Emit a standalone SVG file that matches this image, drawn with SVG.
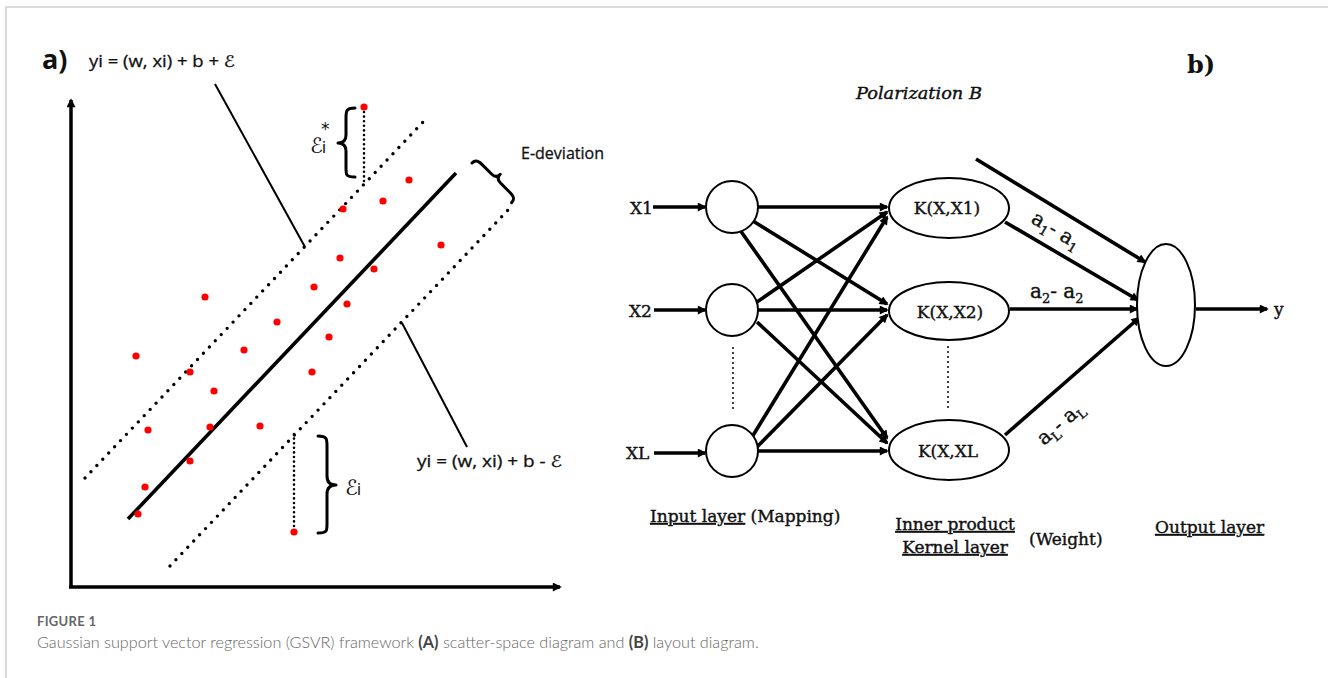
<svg xmlns="http://www.w3.org/2000/svg" width="1328" height="678" viewBox="0 0 1328 678">
<style>
.frame{stroke:#d0d0d0;stroke-width:1.5;fill:none}
.axis{stroke:#000;stroke-width:3.5;fill:none}
.solid{stroke:#000;stroke-width:3.6;fill:none;stroke-linecap:butt}
.dots{stroke:#000;stroke-width:3.4;fill:none;stroke-linecap:round;stroke-dasharray:0 8.6}
.vdots{stroke:#000;stroke-width:2.6;fill:none;stroke-linecap:round;stroke-dasharray:0 4.6}
.vdots2{stroke:#000;stroke-width:2;fill:none;stroke-linecap:round;stroke-dasharray:0 5}
.leader{stroke:#000;stroke-width:2;fill:none}
.brace{stroke:#000;stroke-width:3;fill:none;stroke-linecap:round;stroke-linejoin:round}
.pt{fill:#ff0000}
.ta{font-family:"Open Sans","DejaVu Sans",sans-serif;font-size:16px;fill:#111;stroke:#111;stroke-width:0.3}
.tb{font-family:"DejaVu Serif","Liberation Serif",serif;font-size:17px;fill:#111;stroke:#111;stroke-width:0.4}
.w{font-family:"DejaVu Serif","Liberation Serif",serif;font-size:20px;fill:#111;stroke:#111;stroke-width:0.4}
.node{fill:#fff;stroke:#000;stroke-width:2}
.edge{stroke:#000;stroke-width:3.6;fill:none;marker-end:url(#ah)}
.ul{text-decoration:underline}
.cap{font-family:Lato,"Open Sans",sans-serif;fill:#666}
</style>
<defs>
<marker id="ah" viewBox="0 0 10 10" refX="8" refY="5" markerWidth="12" markerHeight="9" markerUnits="userSpaceOnUse" orient="auto"><path d="M0,0 L10,5 L0,10 z" fill="#000"/></marker>
<marker id="axh" viewBox="0 0 10 10" refX="8" refY="5" markerWidth="10" markerHeight="9" markerUnits="userSpaceOnUse" orient="auto"><path d="M0,0 L10,5 L0,10 z" fill="#000"/></marker>
</defs>
<rect width="1328" height="678" fill="#fff"/>
<path class="frame" d="M6,678 L6,7 L1328,7"/>

<!-- Panel a -->
<g id="panel-a">
<text x="42" y="69" font-family="'Open Sans','DejaVu Sans',sans-serif" font-size="27" font-weight="bold" fill="#111">a)</text>
<text class="ta" x="89" y="67" textLength="146" lengthAdjust="spacingAndGlyphs">yi = (w, xi) + b + ℰ</text>
<path class="axis" d="M71,587 L71,100" marker-end="url(#axh)"/>
<path class="axis" d="M69,587 L560,587" marker-end="url(#axh)"/>
<path class="solid" d="M128,519 L456,173"/>
<path class="dots" d="M85,478 L425,120"/>
<path class="dots" d="M170,566 L510,208"/>
<path class="leader" d="M215,84 L305,247"/>
<path class="leader" d="M402,323 L467,447"/>
<text class="ta" x="417" y="467" textLength="145" lengthAdjust="spacingAndGlyphs">yi = (w, xi) + b - ℰ</text>
<path class="vdots" d="M364,112 L364,182"/>
<path class="vdots" d="M294,434 L294,528"/>
<path class="brace" d="M355,108 C346,108 346,111 346,118 L346,135 C346,141 343,143 338,143 C343,143 346,145 346,151 L346,168 C346,175 346,177 355,177"/>
<text x="310" y="153" font-family="'DejaVu Sans','Open Sans',sans-serif" font-size="21" fill="#111">ℰ<tspan font-size="16" dx="-1">i</tspan></text>
<text x="321" y="135" font-family="'DejaVu Sans',sans-serif" font-size="17" fill="#111">*</text>
<path class="brace" d="M318,436 C327,436 327,439 327,446 L327,476 C327,482 330,485 336,485 C330,485 327,488 327,494 L327,524 C327,531 327,533 318,533"/>
<text x="345" y="495" font-family="'DejaVu Sans','Open Sans',sans-serif" font-size="21" fill="#111">ℰ<tspan font-size="16" dx="-1">i</tspan></text>
<path class="brace" transform="translate(472,163) rotate(45)" d="M0,0 C0,-5 3,-6 8,-6 L22,-6 C26,-6 28,-8 28,-12 C28,-8 30,-6 34,-6 L48,-6 C53,-6 56,-5 56,0"/>
<text class="ta" x="604" y="159" text-anchor="end" font-size="17" textLength="83" lengthAdjust="spacingAndGlyphs">E-deviation</text>
<g class="pts">
<circle class="pt" cx="364" cy="107" r="3.6"/>
<circle class="pt" cx="409" cy="180" r="3.6"/>
<circle class="pt" cx="383" cy="201" r="3.6"/>
<circle class="pt" cx="343" cy="209" r="3.6"/>
<circle class="pt" cx="441" cy="245" r="3.6"/>
<circle class="pt" cx="340" cy="258" r="3.6"/>
<circle class="pt" cx="374" cy="269" r="3.6"/>
<circle class="pt" cx="314" cy="287" r="3.6"/>
<circle class="pt" cx="205" cy="297" r="3.6"/>
<circle class="pt" cx="347" cy="304" r="3.6"/>
<circle class="pt" cx="277" cy="322" r="3.6"/>
<circle class="pt" cx="329" cy="337" r="3.6"/>
<circle class="pt" cx="136" cy="356" r="3.6"/>
<circle class="pt" cx="244" cy="350" r="3.6"/>
<circle class="pt" cx="190" cy="372" r="3.6"/>
<circle class="pt" cx="312" cy="372" r="3.6"/>
<circle class="pt" cx="214" cy="391" r="3.6"/>
<circle class="pt" cx="148" cy="430" r="3.6"/>
<circle class="pt" cx="210" cy="427" r="3.6"/>
<circle class="pt" cx="260" cy="426" r="3.6"/>
<circle class="pt" cx="190" cy="461" r="3.6"/>
<circle class="pt" cx="145" cy="487" r="3.6"/>
<circle class="pt" cx="138" cy="514" r="3.6"/>
<circle class="pt" cx="294" cy="532" r="3.6"/>
</g>
</g>

<!-- Panel b -->
<text x="1187" y="73" font-family="'DejaVu Serif',serif" font-size="24" font-weight="bold" fill="#111">b)</text>
<text x="856" y="99" font-family="'DejaVu Serif',serif" font-size="17" font-style="italic" fill="#111" stroke="#111" stroke-width="0.4" textLength="126" lengthAdjust="spacingAndGlyphs">Polarization B</text>

<g id="connectors">
<path class="edge" d="M653,207 L705,207"/>
<path class="edge" d="M654,310 L705,310"/>
<path class="edge" d="M654,453 L705,453"/>
<path class="edge" d="M758,207 L887,207"/>
<path class="edge" d="M753,221 L887,304"/>
<path class="edge" d="M740,230 L887,438"/>
<path class="edge" d="M757,302 L887,212"/>
<path class="edge" d="M758,310 L887,310"/>
<path class="edge" d="M757,322 L887,443"/>
<path class="edge" d="M752,437 L887,217"/>
<path class="edge" d="M757,447 L887,315"/>
<path class="edge" d="M758,451 L887,451"/>
<path class="edge" d="M976,159 L1145,262"/>
<path class="edge" d="M1005,222 L1138,300"/>
<path class="edge" d="M1010,309 L1137,309"/>
<path class="edge" d="M1005,435 L1139,318"/>
<path class="edge" d="M1196,309 L1267,309"/>
<path class="vdots2" d="M733,348 L733,413"/>
<path class="vdots2" d="M948,347 L948,412"/>
</g>

<g id="in1"><circle class="node" cx="732" cy="207" r="26"/><text class="tb" x="630" y="214">X1</text></g>
<g id="in2"><circle class="node" cx="732" cy="310" r="26"/><text class="tb" x="629" y="317">X2</text></g>
<g id="inL"><circle class="node" cx="732" cy="451" r="26"/><text class="tb" x="626" y="459">XL</text></g>

<g id="k1"><ellipse class="node" cx="949" cy="208" rx="60" ry="30"/><text class="tb" x="947" y="214" text-anchor="middle">K(X,X1)</text></g>
<g id="k2"><ellipse class="node" cx="949" cy="311" rx="60" ry="29"/><text class="tb" x="950" y="318" text-anchor="middle">K(X,X2)</text></g>
<g id="kL"><ellipse class="node" cx="949" cy="450" rx="60" ry="30"/><text class="tb" x="948" y="457" text-anchor="middle">K(X,XL</text></g>

<g id="out"><ellipse class="node" cx="1166" cy="305" rx="29" ry="61"/></g>
<text class="tb" x="1274" y="315" font-size="19">y</text>

<text class="w" transform="translate(1030,222) rotate(31)">a<tspan font-size="13" dy="5">1</tspan><tspan dy="-5">- a</tspan><tspan font-size="13" dy="5">1</tspan></text>
<text class="w" x="1030" y="298">a<tspan font-size="13" dy="5">2</tspan><tspan dy="-5">- a</tspan><tspan font-size="13" dy="5">2</tspan></text>
<text class="w" transform="translate(1044,446) rotate(-41)">a<tspan font-size="13" dy="5">L</tspan><tspan dy="-5">- a</tspan><tspan font-size="13" dy="5">L</tspan></text>

<g id="labels">
<text class="tb" x="650" y="522"><tspan class="ul">Input layer</tspan> (Mapping)</text>
<text class="tb ul" x="955" y="530" text-anchor="middle">Inner product</text>
<text class="tb ul" x="955" y="553" text-anchor="middle">Kernel layer</text>
<text class="tb" x="1029" y="545">(Weight)</text>
<text class="tb ul" x="1155" y="533">Output layer</text>
</g>

<text class="cap" x="37" y="626" font-size="13" font-weight="bold" letter-spacing="0.3">FIGURE 1</text>
<text class="cap" x="37" y="648" font-size="16.2" font-weight="300">Gaussian support vector regression (GSVR) framework <tspan font-weight="bold" fill="#444">(A)</tspan> scatter-space diagram and <tspan font-weight="bold" fill="#444">(B)</tspan> layout diagram.</text>
</svg>
